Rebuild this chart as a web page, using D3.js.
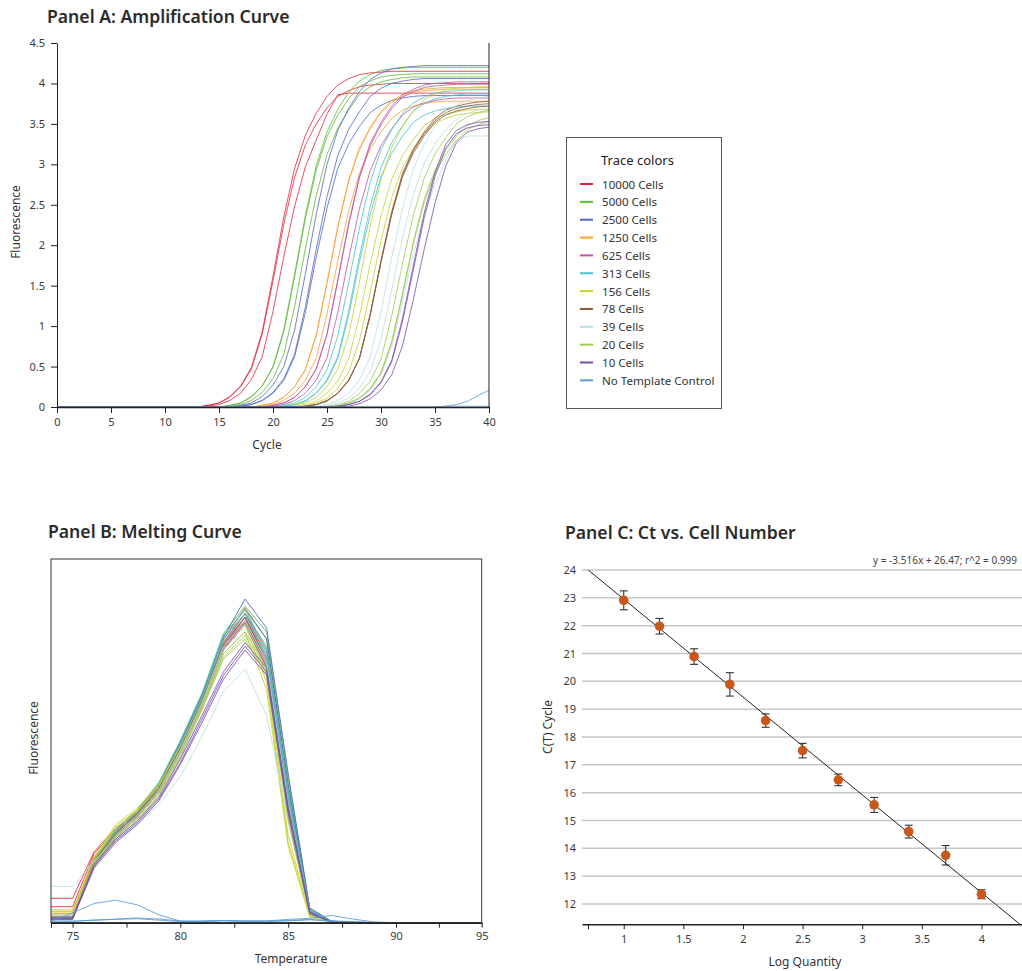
<!DOCTYPE html>
<html><head><meta charset="utf-8">
<script src="https://cdn.jsdelivr.net/npm/d3@7"></script>
<style>
body{margin:0;background:#fff;}
svg{display:block;font-family:"Noto Sans",sans-serif;}
</style></head><body>
<svg id="chart" width="1022" height="971"></svg>
<script>
// ---------- Panel A data: fluorescence per cycle (cycles 0..40) ----------
const cycles = [0,1,2,3,4,5,6,7,8,9,10,11,12,13,14,15,16,17,18,19,20,21,22,23,24,25,26,27,28,29,30,31,32,33,34,35,36,37,38,39,40];
const cycleTicks = [0,5,10,15,20,25,30,35,40];
const fluorTicks = [0,0.5,1,1.5,2,2.5,3,3.5,4,4.5];

const amp10000 = [
 [0,0,0,0,0,0,0,0,0,0,0,0,0,0,0.02,0.05,0.13,0.26,0.49,0.93,1.62,2.35,2.95,3.36,3.63,3.84,3.98,4.06,4.11,4.13,4.14,4.15,4.15,4.15,4.15,4.15,4.15,4.15,4.15,4.15,4.15],
 [0,0,0,0,0,0,0,0,0,0,0,0,0,0,0.02,0.05,0.12,0.25,0.47,0.90,1.56,2.26,2.84,3.24,3.50,3.70,3.84,3.91,3.96,3.98,3.99,4.00,4,4,4,4,4,4,4,4,4],
 [0,0,0,0,0,0,0,0,0,0,0,0,0,0,0.01,0.03,0.08,0.17,0.34,0.62,1.18,1.86,2.48,2.97,3.30,3.62,3.86,3.88,3.88,3.88,3.88,3.88,3.88,3.88,3.88,3.88,3.88,3.88,3.88,3.88,3.88]
];
const amp5000 = [
 [0,0,0,0,0,0,0,0,0,0,0,0,0,0,0,0,0.02,0.05,0.13,0.26,0.50,0.95,1.64,2.37,2.98,3.40,3.68,3.89,4.03,4.11,4.16,4.18,4.19,4.20,4.2,4.2,4.2,4.2,4.2,4.2,4.2],
 [0,0,0,0,0,0,0,0,0,0,0,0,0,0,0,0,0.02,0.05,0.12,0.26,0.49,0.93,1.61,2.33,2.93,3.34,3.61,3.81,3.96,4.03,4.08,4.10,4.11,4.12,4.12,4.12,4.12,4.12,4.12,4.12,4.12],
 [0,0,0,0,0,0,0,0,0,0,0,0,0,0,0,0,0.01,0.03,0.08,0.18,0.35,0.65,1.24,1.96,2.61,3.12,3.45,3.67,3.86,3.96,4.02,4.05,4.07,4.08,4.08,4.08,4.08,4.08,4.08,4.08,4.08]
];
const amp2500 = [
 [0,0,0,0,0,0,0,0,0,0,0,0,0,0,0,0,0,0.02,0.05,0.13,0.27,0.50,0.95,1.65,2.38,3.00,3.42,3.69,3.90,4.05,4.13,4.18,4.20,4.21,4.22,4.22,4.22,4.22,4.22,4.22,4.22],
 [0,0,0,0,0,0,0,0,0,0,0,0,0,0,0,0,0,0.01,0.03,0.08,0.18,0.35,0.65,1.24,1.95,2.60,3.11,3.43,3.65,3.84,3.94,4.00,4.03,4.05,4.06,4.06,4.06,4.06,4.06,4.06,4.06],
 [0,0,0,0,0,0,0,0,0,0,0,0,0,0,0,0,0,0.01,0.03,0.08,0.17,0.33,0.62,1.17,1.85,2.46,2.95,3.25,3.47,3.64,3.73,3.79,3.82,3.84,3.85,3.85,3.85,3.85,3.85,3.85,3.85]
];
const amp1250 = [
 [0,0,0,0,0,0,0,0,0,0,0,0,0,0,0,0,0,0,0,0.02,0.05,0.12,0.25,0.47,0.89,1.54,2.23,2.80,3.20,3.46,3.65,3.79,3.86,3.91,3.93,3.94,3.95,3.95,3.95,3.95,3.95],
 [0,0,0,0,0,0,0,0,0,0,0,0,0,0,0,0,0,0,0,0.02,0.05,0.12,0.25,0.46,0.88,1.53,2.22,2.79,3.18,3.44,3.64,3.77,3.84,3.89,3.91,3.92,3.93,3.93,3.93,3.93,3.93],
 [0,0,0,0,0,0,0,0,0,0,0,0,0,0,0,0,0,0,0,0.01,0.03,0.08,0.17,0.33,0.60,1.15,1.81,2.42,2.89,3.19,3.40,3.57,3.67,3.72,3.75,3.77,3.78,3.78,3.78,3.78,3.78]
];
const amp625 = [
 [0,0,0,0,0,0,0,0,0,0,0,0,0,0,0,0,0,0,0,0,0.02,0.05,0.12,0.25,0.47,0.90,1.57,2.27,2.85,3.26,3.52,3.72,3.86,3.93,3.98,4.00,4.01,4.02,4.02,4.02,4.02],
 [0,0,0,0,0,0,0,0,0,0,0,0,0,0,0,0,0,0,0,0,0.02,0.05,0.12,0.25,0.47,0.90,1.56,2.25,2.83,3.23,3.49,3.69,3.83,3.90,3.95,3.97,3.98,3.99,3.99,3.99,3.99],
 [0,0,0,0,0,0,0,0,0,0,0,0,0,0,0,0,0,0,0,0,0.01,0.03,0.08,0.17,0.33,0.61,1.17,1.83,2.45,2.92,3.23,3.44,3.61,3.71,3.76,3.79,3.81,3.82,3.82,3.82,3.82]
];
const amp313 = [
 [0,0,0,0,0,0,0,0,0,0,0,0,0,0,0,0,0,0,0,0,0,0.02,0.05,0.12,0.25,0.46,0.88,1.53,2.21,2.78,3.18,3.43,3.63,3.76,3.83,3.88,3.90,3.91,3.92,3.92,3.92],
 [0,0,0,0,0,0,0,0,0,0,0,0,0,0,0,0,0,0,0,0,0,0.01,0.03,0.08,0.17,0.34,0.62,1.18,1.86,2.48,2.96,3.27,3.48,3.66,3.75,3.81,3.84,3.86,3.87,3.87,3.87],
 [0,0,0,0,0,0,0,0,0,0,0,0,0,0,0,0,0,0,0,0,0,0.01,0.03,0.07,0.17,0.32,0.60,1.13,1.79,2.38,2.85,3.14,3.35,3.52,3.61,3.66,3.69,3.71,3.72,3.72,3.72]
];
const amp156 = [
 [0,0,0,0,0,0,0,0,0,0,0,0,0,0,0,0,0,0,0,0,0,0,0.02,0.05,0.12,0.25,0.47,0.89,1.54,2.24,2.81,3.21,3.47,3.66,3.80,3.87,3.92,3.94,3.95,3.96,3.96],
 [0,0,0,0,0,0,0,0,0,0,0,0,0,0,0,0,0,0,0,0,0,0,0.01,0.03,0.07,0.17,0.32,0.59,1.12,1.77,2.36,2.82,3.11,3.31,3.48,3.57,3.62,3.65,3.67,3.68,3.68],
 [0,0,0,0,0,0,0,0,0,0,0,0,0,0,0,0,0,0,0,0,0,0,0,0.01,0.05,0.11,0.23,0.43,0.82,1.42,2.06,2.59,2.96,3.19,3.38,3.50,3.57,3.61,3.63,3.64,3.65]
];
const amp78 = [
 [0,0,0,0,0,0,0,0,0,0,0,0,0,0,0,0,0,0,0,0,0,0,0,0.01,0.03,0.08,0.17,0.33,0.60,1.15,1.81,2.42,2.89,3.19,3.40,3.57,3.67,3.72,3.75,3.77,3.78],
 [0,0,0,0,0,0,0,0,0,0,0,0,0,0,0,0,0,0,0,0,0,0,0,0.01,0.03,0.08,0.17,0.33,0.60,1.14,1.80,2.40,2.87,3.17,3.38,3.54,3.64,3.69,3.72,3.74,3.75],
 [0,0,0,0,0,0,0,0,0,0,0,0,0,0,0,0,0,0,0,0,0,0,0,0.01,0.03,0.07,0.17,0.32,0.60,1.13,1.79,2.38,2.85,3.14,3.35,3.52,3.61,3.66,3.69,3.71,3.72]
];
const amp39 = [
 [0,0,0,0,0,0,0,0,0,0,0,0,0,0,0,0,0,0,0,0,0,0,0,0,0.01,0.03,0.08,0.17,0.33,0.62,1.17,1.85,2.46,2.95,3.25,3.47,3.64,3.73,3.79,3.82,3.84],
 [0,0,0,0,0,0,0,0,0,0,0,0,0,0,0,0,0,0,0,0,0,0,0,0,0,0.01,0.05,0.11,0.23,0.44,0.83,1.45,2.10,2.63,3.01,3.25,3.43,3.56,3.63,3.67,3.69],
 [0,0,0,0,0,0,0,0,0,0,0,0,0,0,0,0,0,0,0,0,0,0,0,0,0,0,0.01,0.04,0.10,0.21,0.40,0.75,1.31,1.89,2.38,2.75,3.05,3.30,3.35,3.35,3.35]
];
const amp20 = [
 [0,0,0,0,0,0,0,0,0,0,0,0,0,0,0,0,0,0,0,0,0,0,0,0,0,0.01,0.03,0.07,0.17,0.32,0.59,1.13,1.78,2.37,2.83,3.13,3.33,3.50,3.59,3.64,3.67],
 [0,0,0,0,0,0,0,0,0,0,0,0,0,0,0,0,0,0,0,0,0,0,0,0,0,0,0.01,0.05,0.11,0.23,0.43,0.81,1.41,2.05,2.57,2.93,3.17,3.35,3.48,3.54,3.58],
 [0,0,0,0,0,0,0,0,0,0,0,0,0,0,0,0,0,0,0,0,0,0,0,0,0,0,0.01,0.05,0.11,0.22,0.42,0.80,1.39,2.02,2.53,2.89,3.12,3.30,3.43,3.49,3.53]
];
const amp10 = [
 [0,0,0,0,0,0,0,0,0,0,0,0,0,0,0,0,0,0,0,0,0,0,0,0,0,0,0.01,0.03,0.07,0.16,0.31,0.58,1.10,1.75,2.40,2.90,3.25,3.42,3.49,3.52,3.53],
 [0,0,0,0,0,0,0,0,0,0,0,0,0,0,0,0,0,0,0,0,0,0,0,0,0,0,0.01,0.03,0.07,0.15,0.30,0.56,1.06,1.70,2.34,2.85,3.20,3.38,3.45,3.48,3.49],
 [0,0,0,0,0,0,0,0,0,0,0,0,0,0,0,0,0,0,0,0,0,0,0,0,0,0,0,0.01,0.04,0.10,0.21,0.40,0.76,1.33,1.95,2.52,2.98,3.27,3.40,3.44,3.46]
];
const ampNTC = [
 [0,0,0,0,0,0,0,0,0,0,0,0,0,0,0,0,0,0,0,0,0,0,0,0,0,0,0,0,0,0,0,0,0,0,0,0,0.01,0.03,0.07,0.14,0.21],
 [0,0,0,0,0,0,0,0,0,0,0,0,0,0,0,0,0,0,0,0,0,0,0,0,0,0,0,0,0,0,0,0,0,0,0,0,0.01,0.01,0.01,0.01,0.01]
];

// ---------- Legend ----------
const groupNames = ["10000 Cells","5000 Cells","2500 Cells","1250 Cells","625 Cells","313 Cells","156 Cells","78 Cells","39 Cells","20 Cells","10 Cells","No Template Control"];
const groupColors = ["#e3243b","#5cb93a","#4e66c2","#f7a136","#c450a6","#46c4c8","#c8d22a","#8b5a3a","#b9dde9","#9ccb4f","#7a4cab","#5b9bd5"];

// ---------- Panel B data: melt curve (arbitrary fluorescence units) ----------
const temps = [74,75,76,77,78,79,80,81,82,83,84,85,86,87,88,89,90,91,92,93,94,95];
const tempTicks = [74,75,77.5,80,82.5,85,87.5,90,92.5,95];
const tempLabels = [75,80,85,90,95];
const melt10000 = [
 [6.7,6.7,19.5,26,30.5,37,48,61,76,84,72,33,3,0.3,0,0,0,0,0,0,0,0],
 [4.4,4.4,19,25.5,30,36.5,47.5,60.5,76.5,83,71,32,2.5,0.2,0,0,0,0,0,0,0,0],
 [2.5,2.5,18,25,29.5,36,47,60,75.5,82.5,70.5,31,2.8,0.3,0,0,0,0,0,0,0,0]
];
const melt5000 = [
 [1.5,1.5,17.5,25.5,31,38.5,50,63,79.5,87,80,40,4,0.5,0,0,0,0,0,0,0,0],
 [1.2,1.2,17,25,30.5,38,49.5,62.5,79,86,78,38,3.5,0.4,0,0,0,0,0,0,0,0],
 [1,1,16.5,24.5,30,37,48.5,61.5,78,85,76,36,3.2,0.3,0,0,0,0,0,0,0,0]
];
const melt2500 = [
 [2,2,17.5,25.5,31,38,49.5,62.5,78.5,89,81,41,4,0.4,0,0,0,0,0,0,0,0],
 [1.5,1.5,17,25,30.5,37.5,49,62,78,86.5,78,38,3.5,0.3,0,0,0,0,0,0,0,0],
 [1,1,16.5,24.5,30,37,48,61,77,85,75,36,3,0.3,0,0,0,0,0,0,0,0]
];
const melt1250 = [
 [3.5,3.5,17.5,25,30.5,37.5,48.5,61.5,77.5,86.5,74,35,3,0.3,0,0,0,0,0,0,0,0],
 [3,3,17,24.5,30,37,48,61,77,85,73,34,2.8,0.3,0,0,0,0,0,0,0,0],
 [2.5,2.5,16.5,24,29.5,36.5,47.5,60.5,76,84,72,33,2.6,0.2,0,0,0,0,0,0,0,0]
];
const melt625 = [
 [2,2,17,24.5,30,37,48,61,77,85,73,34,3,0.3,0,0,0,0,0,0,0,0],
 [1.5,1.5,16.5,24,29.5,36.5,47.5,60.5,76,84,72,33,2.8,0.3,0,0,0,0,0,0,0,0],
 [1,1,16,23.5,29,36,47,60,75,83,71,32,2.5,0.2,0,0,0,0,0,0,0,0]
];
const melt313 = [
 [2,2,17.5,25.5,31,38.5,50,63,79,86,75,36,3.5,0.4,0,0,0,0,0,0,0,0],
 [1.5,1.5,17,25,30.5,38,49,62,78,85,74,35,3.2,0.3,0,0,0,0,0,0,0,0],
 [1,1,16.5,24.5,30,37,48,61,77,84,73,34,3,0.3,0,0,0,0,0,0,0,0]
];
const melt156 = [
 [3,3,18,27,31.5,38,48.5,61,76,83,68,24,2,0.2,0,0,0,0,0,0,0,0],
 [2.5,2.5,17.5,26.5,31,37.5,48,60,75,82,66,22,1.8,0.2,0,0,0,0,0,0,0,0],
 [2,2,17,26,30.5,37,47,59,74,80,64,21,1.5,0.1,0,0,0,0,0,0,0,0]
];
const melt78 = [
 [1.5,1.5,17,24.5,30,37,48,61,76.5,84,72,33,3,0.3,0,0,0,0,0,0,0,0],
 [1.2,1.2,16.5,24,29.5,36.5,47.5,60.5,76,83,71,32,2.8,0.3,0,0,0,0,0,0,0,0],
 [1,1,16,23.5,29,36,47,60,75,82,70,31,2.5,0.2,0,0,0,0,0,0,0,0]
];
const melt39 = [
 [10,10,17,22.7,26.9,32.4,40.2,51.2,63.6,69.7,57,28,2.5,0.2,0,0,0,0,0,0,0,0],
 [2,2,16.5,24,29.5,36.5,47.5,60.5,76,83,72,33,3,0.3,0,0,0,0,0,0,0,0],
 [1.5,1.5,16,23.5,29,36,47,60,75,82,71,32,2.8,0.3,0,0,0,0,0,0,0,0]
];
const melt20 = [
 [1.5,1.5,16.5,24,29,36,46.5,59.5,74,80,70,30,2.5,0.2,0,0,0,0,0,0,0,0],
 [1.2,1.2,16,23.5,28.5,35.5,46,59,73,79,69,29,2.3,0.2,0,0,0,0,0,0,0,0],
 [1,1,15.5,23,28,35,45.5,58.5,72.5,78,68,28,2.2,0.2,0,0,0,0,0,0,0,0]
];
const melt10 = [
 [1.5,1.5,16,23,28,34.5,45,57,69,77,70,32,3,0.3,0,0,0,0,0,0,0,0],
 [1.2,1.2,15.5,22.5,27.5,34,44,56,68,76,69,31,2.8,0.3,0,0,0,0,0,0,0,0],
 [1,1,15,22,27,33.5,43.5,55,67,75,68,30,2.5,0.2,0,0,0,0,0,0,0,0]
];
const meltNTC = [
 [0.3,2.7,5.3,6.2,4.9,2.2,0.4,0.3,0.5,0.4,0.5,0.9,1.2,2,1,0.2,0,0,0,0,0,0],
 [0.2,0.3,0.8,0.9,1.1,0.7,0.3,0.5,0.6,0.4,0.3,0.5,0.8,0.4,0.2,0.1,0,0,0,0,0,0],
 [0.5,0.5,0.6,1,1.3,1,0.5,0.4,0.6,0.5,0.5,0.6,0.9,0.5,0.3,0,0,0,0,0,0,0]
];

// ---------- Panel C data ----------
const logQty = [1,1.3,1.59,1.89,2.19,2.5,2.8,3.1,3.39,3.7,4];
const ctMean = [22.91,21.98,20.89,19.89,18.59,17.51,16.46,15.56,14.60,13.75,12.35];
const ctErr  = [0.34,0.28,0.28,0.42,0.24,0.26,0.21,0.27,0.23,0.35,0.16];
const ctTicks = [12,13,14,15,16,17,18,19,20,21,22,23,24];
const logTicks = [0.7,1,1.5,2,2.5,3,3.5,4];
const fitSlope = -3.516, fitIntercept = 26.47, fitR2 = 0.999;

// ================= drawing =================
const svg = d3.select("#chart");
svg.append("rect").attr("width",1022).attr("height",971).attr("fill","#fff");
const titleColor = "#2b2b2b", tickColor = "#3a3a3a", axisColor = "#222";

function styleAxis(g, fs){
  g.selectAll("path.domain").attr("stroke",axisColor).attr("stroke-width",1);
  g.selectAll(".tick line").attr("stroke",axisColor);
  g.selectAll("text").attr("font-size",fs).attr("fill",tickColor).attr("font-family","'Noto Sans',sans-serif");
}
function title(x,y,t){
  svg.append("text").attr("x",x).attr("y",y).attr("font-size",17.6).attr("font-weight",600)
    .attr("fill",titleColor).text(t);
}
function label(x,y,t,rot){
  const el = svg.append("text").attr("font-size",12).attr("fill","#333").attr("text-anchor","middle")
    .attr("dominant-baseline","central").text(t);
  if(rot) el.attr("transform",`translate(${x},${y}) rotate(-90)`);
  else el.attr("x",x).attr("y",y);
}

// ---- Panel A ----
title(47,23,"Panel A: Amplification Curve");
const xA = d3.scaleLinear().domain([0,40]).range([57,489]);
const yA = d3.scaleLinear().domain([0,4.5]).range([407,43]);
const ampGroups = [amp10000,amp5000,amp2500,amp1250,amp625,amp313,amp156,amp78,amp39,amp20,amp10,ampNTC];
const lineA = d3.line().x((d,i)=>xA(cycles[i])).y(d=>yA(d));
const gA = svg.append("g");
ampGroups.forEach((grp,gi)=>{
  grp.forEach(tr=>{
    gA.append("path").attr("d",lineA(tr)).attr("fill","none")
      .attr("stroke",groupColors[gi]).attr("stroke-width",1).attr("stroke-opacity",0.8);
  });
});
const axA_b = svg.append("g").attr("transform",`translate(0,${yA(0)})`)
  .call(d3.axisBottom(xA).tickValues(cycleTicks).tickSize(6).tickSizeOuter(0).tickPadding(5).tickFormat(d=>d));
styleAxis(axA_b,11);
axA_b.select("path.domain").attr("stroke-width",1.5);
const axA_l = svg.append("g").attr("transform",`translate(${xA(0)},0)`)
  .call(d3.axisLeft(yA).tickValues(fluorTicks).tickSize(6).tickSizeOuter(0).tickPadding(6).tickFormat(d=>d));
styleAxis(axA_l,11);
svg.append("line").attr("x1",xA(40)).attr("x2",xA(40)).attr("y1",yA(4.5)).attr("y2",yA(0)).attr("stroke",axisColor);
label(267,444,"Cycle");
label(15,222,"Fluorescence",true);

// ---- Legend ----
svg.append("rect").attr("x",566.5).attr("y",137.5).attr("width",155).attr("height",271)
  .attr("fill","#fff").attr("stroke","#5a5a5a").attr("stroke-width",1);
svg.append("text").attr("x",601).attr("y",165).attr("font-size",13).attr("fill","#222").text("Trace colors");
groupNames.forEach((n,i)=>{
  const y = 184 + i*17.85;
  svg.append("line").attr("x1",580).attr("x2",593).attr("y1",y).attr("y2",y)
    .attr("stroke",groupColors[i]).attr("stroke-width",2);
  svg.append("text").attr("x",602).attr("y",y).attr("dominant-baseline","central")
    .attr("font-size",11.6).attr("fill","#333").text(n);
});

// ---- Panel B ----
title(48,538,"Panel B: Melting Curve");
const xB = d3.scaleLinear().domain([74,90,95]).range([51,396,481.7]);
const yB = d3.scaleLinear().domain([0,100]).range([922.7,559]);
const meltGroups = [melt10000,melt5000,melt2500,melt1250,melt625,melt313,melt156,melt78,melt39,melt20,melt10,meltNTC];
const lineB = d3.line().x((d,i)=>xB(temps[i])).y(d=>yB(d));
meltGroups.forEach((grp,gi)=>{
  grp.forEach(tr=>{
    svg.append("path").attr("d",lineB(tr)).attr("fill","none")
      .attr("stroke",groupColors[gi]).attr("stroke-width",1).attr("stroke-opacity",0.85);
  });
});
svg.append("rect").attr("x",xB(74)).attr("y",yB(100)).attr("width",xB(95)-xB(74)).attr("height",yB(0)-yB(100))
  .attr("fill","none").attr("stroke","#333").attr("stroke-width",1);
const axB = svg.append("g").attr("transform",`translate(0,${yB(0)})`)
  .call(d3.axisBottom(xB).tickValues(tempTicks).tickSize(5).tickSizeOuter(0).tickPadding(5)
    .tickFormat(d=>tempLabels.includes(d)?d:""));
styleAxis(axB,11);
axB.select("path.domain").attr("stroke-width",1.5);
label(291,958,"Temperature");
label(33,738,"Fluorescence",true);

// ---- Panel C ----
title(565,539,"Panel C: Ct vs. Cell Number");
const xC = d3.scaleLinear().domain([0.65,4.34]).range([582,1022]);
const yC = d3.scaleLinear().domain([11.27,24]).range([924.3,570]);
svg.append("g").selectAll("line").data(ctTicks).join("line")
  .attr("x1",xC(0.65)).attr("x2",xC(4.34)).attr("y1",d=>yC(d)).attr("y2",d=>yC(d))
  .attr("stroke","#c6c6c6").attr("stroke-width",1.5);
const axC_l = svg.append("g").attr("transform",`translate(${xC(0.65)},0)`)
  .call(d3.axisLeft(yC).tickValues(ctTicks).tickSize(0).tickPadding(6).tickFormat(d=>d));
axC_l.select("path.domain").remove();
styleAxis(axC_l,11);
const axC_b = svg.append("g").attr("transform",`translate(0,${yC(11.27)})`)
  .call(d3.axisBottom(xC).tickValues(logTicks).tickSize(5).tickSizeOuter(0).tickPadding(6)
    .tickFormat(d=>d===0.7?"":d));
styleAxis(axC_b,11);
axC_b.select("path.domain").attr("stroke-width",1.5);
// fitted line, clipped to the plotted range
const fx0 = (24-fitIntercept)/fitSlope, fx1 = (11.27-fitIntercept)/fitSlope;
svg.append("line").attr("x1",xC(fx0)).attr("y1",yC(fitSlope*fx0+fitIntercept))
  .attr("x2",xC(fx1)).attr("y2",yC(fitSlope*fx1+fitIntercept)).attr("stroke","#222").attr("stroke-width",1);
const gE = svg.append("g").attr("stroke","#333").attr("stroke-width",1.1);
logQty.forEach((x,i)=>{
  const cx = xC(x), y1 = yC(ctMean[i]+ctErr[i]), y2 = yC(ctMean[i]-ctErr[i]);
  gE.append("line").attr("x1",cx).attr("x2",cx).attr("y1",y1).attr("y2",y2);
  gE.append("line").attr("x1",cx-4).attr("x2",cx+4).attr("y1",y1).attr("y2",y1);
  gE.append("line").attr("x1",cx-4).attr("x2",cx+4).attr("y1",y2).attr("y2",y2);
});
svg.append("g").selectAll("circle").data(logQty).join("circle")
  .attr("cx",d=>xC(d)).attr("cy",(d,i)=>yC(ctMean[i])).attr("r",4.8).attr("fill","#c9581b");
svg.append("text").attr("x",1017).attr("y",564).attr("text-anchor","end").attr("font-size",10)
  .attr("fill","#444").text(`y = ${fitSlope}x + ${fitIntercept}; r^2 = ${fitR2}`);
label(805,961,"Log Quantity");
label(547,727,"C(T) Cycle",true);
</script>
</body></html>
